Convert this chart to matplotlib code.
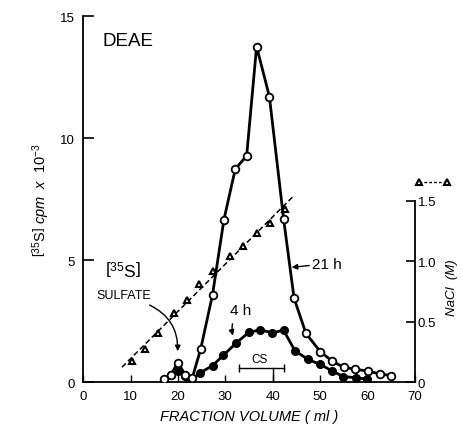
import numpy as np
import matplotlib
matplotlib.use("Agg")
import matplotlib.pyplot as plt
from matplotlib.lines import Line2D

plt.rcParams['font.family'] = ['Liberation Sans', 'DejaVu Sans']
plt.rcParams['mathtext.fontset'] = 'custom'
plt.rcParams['mathtext.rm'] = 'Liberation Sans'
plt.rcParams['mathtext.it'] = 'Liberation Sans:italic'

# 21 h labelling (open circles), cpm x 10^-3
vol_21h = [17.0, 18.5, 20.0, 21.5, 23.0, 24.8, 27.3, 29.7, 32.1, 34.5, 36.6,
           39.3, 42.3, 44.5, 47.0, 50.0, 52.6, 55.0, 57.4, 60.2, 62.7, 65.0]
cpm_21h = [0.12, 0.3, 0.8, 0.3, 0.15, 1.35, 3.58, 6.65, 8.73, 9.27, 13.75,
           11.7, 6.68, 3.44, 2.0, 1.25, 0.85, 0.6, 0.53, 0.44, 0.33, 0.26]

# 4 h labelling (filled circles)
vol_4h = [17.0, 18.5, 20.0, 21.5, 22.6, 24.7, 27.3, 29.6, 32.2, 34.9, 37.3,
          39.9, 42.3, 44.7, 47.4, 50.0, 52.5, 54.9, 57.5, 59.8]
cpm_4h = [0.05, 0.3, 0.45, 0.25, 0.05, 0.38, 0.67, 1.1, 1.58, 2.03, 2.14,
          2.02, 2.12, 1.28, 0.93, 0.72, 0.46, 0.22, 0.18, 0.12]

# NaCl gradient (triangles), M
vol_nacl = [10.3, 13.0, 15.7, 19.1, 22.0, 24.5, 27.5, 31.0, 33.8, 36.6, 39.5, 42.6]
nacl = [0.17, 0.27, 0.41, 0.57, 0.68, 0.81, 0.92, 1.04, 1.13, 1.23, 1.32, 1.43]

fig = plt.figure(figsize=(4.62, 4.27), dpi=100)
ax = fig.add_axes([0.18, 0.103, 0.718, 0.857])
ax2 = ax.twinx()
ax.set_zorder(ax2.get_zorder() + 1)
ax.patch.set_visible(False)

# gradient line (linear fit through the triangles)
k, b = np.polyfit(vol_nacl, nacl, 1)
xfit = np.linspace(vol_nacl[0] - 2.1, vol_nacl[-1] + 1.9, 10)
ax2.plot(xfit, k * xfit + b, color='black', lw=1.1, ls=(0, (3.5, 2)))
ax2.plot(vol_nacl, nacl, ls='none', marker='^', ms=4.5, mfc='white',
         mec='black', mew=1.5)

ax.plot(vol_4h, cpm_4h, color='black', lw=2.0, marker='o', ms=5.5,
        mfc='black', mec='black', zorder=3)
ax.plot(vol_21h, cpm_21h, color='black', lw=2.0, marker='o', ms=5.5,
        mfc='white', mec='black', mew=1.3, zorder=4)

ax.set_xlim(0, 70)
ax.set_ylim(0, 15)
ax2.set_ylim(0, 3.03)

for a in (ax, ax2):
    a.spines['top'].set_visible(False)
ax.spines['right'].set_visible(False)
ax2.spines['left'].set_visible(False)
ax2.spines['bottom'].set_visible(False)
ax2.spines['right'].set_bounds(0, 1.5)
for s in ('left', 'bottom'):
    ax.spines[s].set_linewidth(1.3)
ax2.spines['right'].set_linewidth(1.3)

ax.set_xticks(range(0, 71, 10))
ax.set_yticks([0, 5, 10, 15])
ax2.set_yticks([0, 0.5, 1.0, 1.5])
ax2.set_yticklabels(['0', '0.5', '1.0', '1.5'])
ax.tick_params(axis='y', direction='in', length=8, width=1.2, labelsize=9.5, pad=6)
ax.tick_params(axis='x', direction='in', length=5, width=1.0, labelsize=9.5, pad=6)
ax2.tick_params(axis='y', direction='in', length=6.5, width=1.2, labelsize=9.5, pad=2)

ax.set_xlabel('FRACTION VOLUME ( ml )', fontstyle='italic', fontsize=10.5, labelpad=5)
ax.set_ylabel(r'$\left[^{35}\mathrm{S}\right]$ $cpm\ \ x\ \ 10^{-3}$', fontsize=10.5, labelpad=6)
ax2.set_ylabel('NaCl  (M)', fontstyle='italic', fontsize=9.5)
ax2.yaxis.set_label_coords(1.095, 0.26)

ax.text(4, 14.0, 'DEAE', fontsize=13.5, ha='left', va='center')
ax.text(8.5, 4.6, r'$\left[^{35}\mathrm{S}\right]$', fontsize=12.5, ha='center', va='center')
ax.text(8.5, 3.55, 'SULFATE', fontsize=9, ha='center', va='center')
ax.annotate('', xy=(19.9, 1.15), xytext=(13.5, 3.2),
            arrowprops=dict(arrowstyle='-|>', color='black', lw=1.0,
                            connectionstyle='arc3,rad=-0.35', mutation_scale=8))
ax.annotate('21 h', xy=(44.0, 4.7), xytext=(48.3, 4.85), fontsize=11,
            ha='left', va='center',
            arrowprops=dict(arrowstyle='-|>', color='black', lw=1.0,
                            mutation_scale=8, shrinkA=0, shrinkB=0))
ax.annotate('4 h', xy=(31.6, 1.9), xytext=(33.3, 2.95), fontsize=11,
            ha='center', va='center',
            arrowprops=dict(arrowstyle='-|>', color='black', lw=1.0,
                            connectionstyle='arc3,rad=0.3', mutation_scale=8,
                            shrinkA=3, shrinkB=0))

# CS marker
ax.plot([32.8, 42.3], [0.56, 0.56], color='black', lw=1.0, marker='|', ms=6, mew=1.0)
ax.plot([40, 40], [0, 0.56], color='black', lw=1.0)
ax.text(37.3, 0.95, 'CS', fontsize=8.5, ha='center', va='center')

# key for the NaCl axis
key = Line2D([], [], color='black', lw=1.0, ls=(0, (2, 1.5)), marker='^', ms=4.5,
             mfc='white', mec='black', mew=1.5)
ax2.legend(handles=[key], labels=[''], numpoints=2, frameon=False,
           handlelength=2.6, handletextpad=0, borderpad=0, borderaxespad=0,
           loc='center left', bbox_to_anchor=(0.898, 1 - 184 / 427),
           bbox_transform=fig.transFigure)

fig.savefig('out.png', dpi=100)
